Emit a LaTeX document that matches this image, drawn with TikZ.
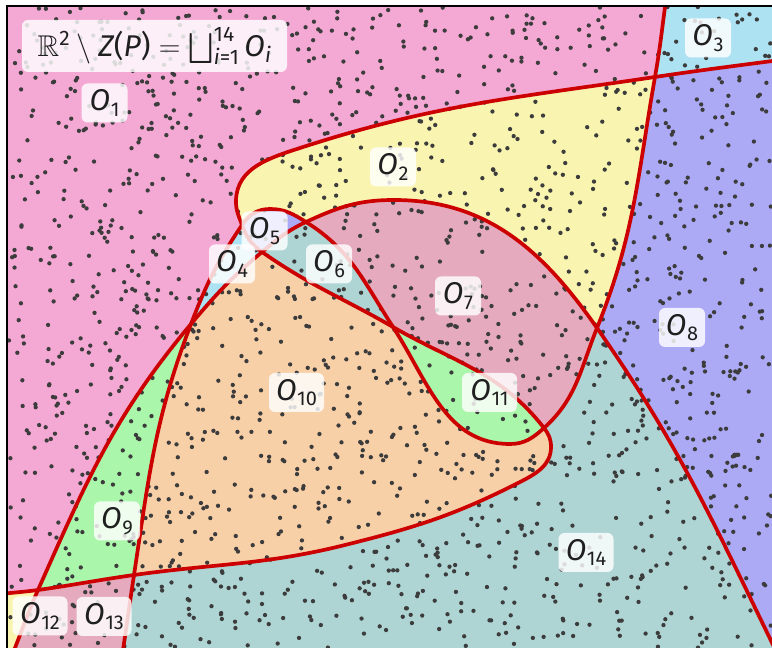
\RequirePackage{fix-cm}
\documentclass[tikz,border=0pt]{standalone}
\usepackage{amsmath,amssymb}
\usepackage{fontspec}
\setmainfont{Fira Sans}
\definecolor{cPink}{HTML}{F4A8D4}
\definecolor{cYel}{HTML}{F9F4B0}
\definecolor{cBlue}{HTML}{ACE2F2}
\definecolor{cLav}{HTML}{ACAAF5}
\definecolor{cTeal}{HTML}{AED4D4}
\definecolor{cMauve}{HTML}{E5AABE}
\definecolor{cGreen}{HTML}{AAF6AA}
\definecolor{cPeach}{HTML}{F8D0A8}
\definecolor{cRed}{HTML}{CC0000}
\definecolor{cDot}{HTML}{3C3C3C}
\newcommand{\Ol}[1]{\textit{O}\kern0.6pt\raisebox{-5.5pt}{\fontsize{20}{20}\selectfont #1}}
% curve L
\def\pLa{to[out=8,in=188] (C10)}
\def\pLb{to[out=8,in=188] (C9)}
\def\pLc{to[out=8,in=194] (L3) to[out=14,in=207] (L4) to[out=27,in=270] (L5) to[out=90,in=308] (C6)}
\def\pLd{to[out=128,in=330] (C5)}
\def\pLe{to[out=150,in=325] (C3)}
\def\pLf{to[out=145,in=290] (C2)}
\def\pLg{to[out=110,in=268] (L9) to[out=88,in=198] (L11) to[out=18,in=188.5] (C1)}
\def\pLh{to[out=8.5,in=187.6] (L13)}
\def\rLa{to[out=188,in=8] (L0)}
\def\rLb{to[out=188,in=8] (C10)}
\def\rLc{to[out=308,in=90] (L5) to[out=270,in=27] (L4) to[out=207,in=14] (L3) to[out=194,in=8] (C9)}
\def\rLd{to[out=330,in=128] (C6)}
\def\rLe{to[out=325,in=150] (C5)}
\def\rLf{to[out=290,in=145] (C3)}
\def\rLg{to[out=188.5,in=18] (L11) to[out=198,in=88] (L9) to[out=268,in=110] (C2)}
\def\rLh{to[out=187.6,in=8.5] (C1)}
% curve gamma
\def\pGa{to[out=262,in=80] (C1)}
\def\pGb{to[out=260,in=68] (C7)}
\def\pGc{to[out=248,in=42] (C6)}
\def\pGd{to[out=222,in=0] (GU) to[out=180,in=303] (C5)}
\def\pGe{to[out=123,in=328] (C4)}
\def\pGf{to[out=148,in=0] (GH) to[out=180,in=56] (C2)}
\def\pGg{to[out=236,in=69] (C8)}
\def\pGh{to[out=249,in=81.4] (C9)}
\def\pGi{to[out=261.4,in=81.4] (G13)}
\def\rGa{to[out=80,in=262] (G0)}
\def\rGb{to[out=68,in=260] (C1)}
\def\rGc{to[out=42,in=248] (C7)}
\def\rGd{to[out=303,in=180] (GU) to[out=0,in=222] (C6)}
\def\rGe{to[out=328,in=123] (C5)}
\def\rGf{to[out=56,in=180] (GH) to[out=0,in=148] (C4)}
\def\rGg{to[out=69,in=236] (C2)}
\def\rGh{to[out=81.4,in=249] (C8)}
\def\rGi{to[out=81.4,in=261.4] (C9)}
% curve beta
\def\pBa{to[out=68,in=246] (C10)}
\def\pBb{to[out=66,in=230] (C8)}
\def\pBc{to[out=50,in=220] (C3)}
\def\pBd{to[out=40,in=205] (C4)}
\def\pBe{to[out=25,in=180] (T) to[out=0,in=125] (C7)}
\def\pBf{to[out=-55,in=116] (B7)}
\def\rBa{to[out=246,in=68] (B0)}
\def\rBb{to[out=230,in=66] (C10)}
\def\rBc{to[out=220,in=50] (C8)}
\def\rBd{to[out=205,in=40] (C3)}
\def\rBe{to[out=125,in=0] (T) to[out=180,in=25] (C4)}
\def\rBf{to[out=116,in=-55] (C7)}
\begin{document}
\begin{tikzpicture}[x=1pt,y=1pt,
  redc/.style={draw=cRed, line width=3.7pt, line cap=round, line join=round},
  lab/.style={fill=white, fill opacity=0.82, text opacity=1, text=black!88,
    rounded corners=6pt, inner sep=0pt, minimum width=46pt, minimum height=39pt,
    font=\fontsize{30}{36}\selectfont},
  labw/.style={lab, minimum width=55pt}]
\useasboundingbox (0,0) rectangle (772,648);
\fill[white] (0,0) rectangle (772,648);
% knots
\coordinate (L0) at (-2,53.5);
\coordinate (C10) at (38,58);
\coordinate (C9) at (134,73);
\coordinate (L3) at (345,103);
\coordinate (L4) at (520,166);
\coordinate (L5) at (551,201);
\coordinate (C6) at (544,220);
\coordinate (C5) at (393,321);
\coordinate (C3) at (262,396);
\coordinate (C2) at (242,423);
\coordinate (L9) at (236,448);
\coordinate (L11) at (300,500);
\coordinate (C1) at (655,571);
\coordinate (L13) at (782,588.3);
\coordinate (G0) at (666.4,651);
\coordinate (C7) at (597,320);
\coordinate (GU) at (510,204);
\coordinate (C4) at (306,426);
\coordinate (GH) at (270,439);
\coordinate (C8) at (191,324);
\coordinate (G13) at (121.8,-10);
\coordinate (B0) at (11,-10);
\coordinate (T) at (394,448);
\coordinate (B7) at (777,-5);
\begin{scope}
\clip (8,0) rectangle (772,641);
% regions
\fill[cPink] (L0) \pLa \pBb \rGg \pLg \rGa -- (666.4,680) -- (-30,680) -- (-30,53.5) -- cycle;
\fill[cBlue] (G0) \pGa \pLh -- (800,588.3) -- (800,680) -- (666.4,680) -- cycle;
\fill[cLav] (L13) \rLh \pGb \pBf -- (800,-30) -- (800,588.3) -- cycle;
\fill[cYel] (C1) \rLg \rGf \pBe \rGb -- cycle;
\fill[cLav] (C2) \rLf \pBd \pGf -- cycle;
\fill[cBlue] (C8) \pBc \pLf \pGg -- cycle;
\fill[cTeal] (C3) \pBd \rGe \pLe -- cycle;
\fill[cMauve] (C4) \pBe \pGc \pLd \pGe -- cycle;
\fill[cGreen] (C5) \rLd \pGd -- cycle;
\fill[cPeach] (C8) \pBc \rLe \rGd \rLc \rGh -- cycle;
\fill[cGreen] (C10) \pBb \pGh \rLb -- cycle;
\fill[cYel] (L0) \pLa \rBa -- (11,-30) -- (-30,-30) -- (-30,53.5) -- cycle;
\fill[cMauve] (C10) \pLb \pGi -- (121.8,-30) -- (11,-30) -- (B0) \pBa -- cycle;
\fill[cTeal] (C9) \pLc \rGc \pBf -- (777,-30) -- (121.8,-30) -- (G13) \rGi -- cycle;
% sample points
\pgfmathsetseed{2024}
\foreach \k in {1,...,1800}{%
  \pgfmathsetmacro\qx{8+764*rnd}%
  \pgfmathsetmacro\qy{641*rnd}%
  \fill[cDot] (\qx,\qy) circle (2.15);
}
% the curves
\draw[redc] (L0) \pLa \pLb \pLc \pLd \pLe \pLf \pLg \pLh;
\draw[redc] (G0) \pGa \pGb \pGc \pGd \pGe \pGf \pGg \pGh \pGi;
\draw[redc] (B0) \pBa \pBb \pBc \pBd \pBe \pBf;
\end{scope}
% frame
\draw[black, line width=2pt] (7,-5) -- (7,642) -- (780,642);
% labels
\node[lab, minimum width=265pt, minimum height=52pt] (tt) at (154.5,602)
  {$\mathbb{R}^{\text{2}}\setminus \textit{Z}\text{(}\textit{P}\text{)}=\bigsqcup_{\text{\itshape i\upshape =1}}^{\text{14}}\textit{O}_{\textit{i}}$};
\node[lab] (o1) at (104.5,545) {\Ol{1}};
\node[lab] (o2) at (393,481) {\Ol{2}};
\node[lab] (o3) at (708,610) {\Ol{3}};
\node[lab] (o4) at (232,384) {\Ol{4}};
\node[lab] (o5) at (264.5,417) {\Ol{5}};
\node[lab] (o6) at (329,384) {\Ol{6}};
\node[lab] (o7) at (458,352) {\Ol{7}};
\node[lab] (o8) at (682,320.5) {\Ol{8}};
\node[lab] (o9) at (117,127) {\Ol{9}};
\node[labw] (o10) at (296.5,255.5) {\Ol{10}};
\node[labw] (o11) at (489.5,255.5) {\Ol{11}};
\node[labw] (o12) at (40,32) {\Ol{12}};
\node[labw] (o13) at (104,31.5) {\Ol{13}};
\node[labw] (o14) at (586,95.5) {\Ol{14}};
\end{tikzpicture}
\end{document}
